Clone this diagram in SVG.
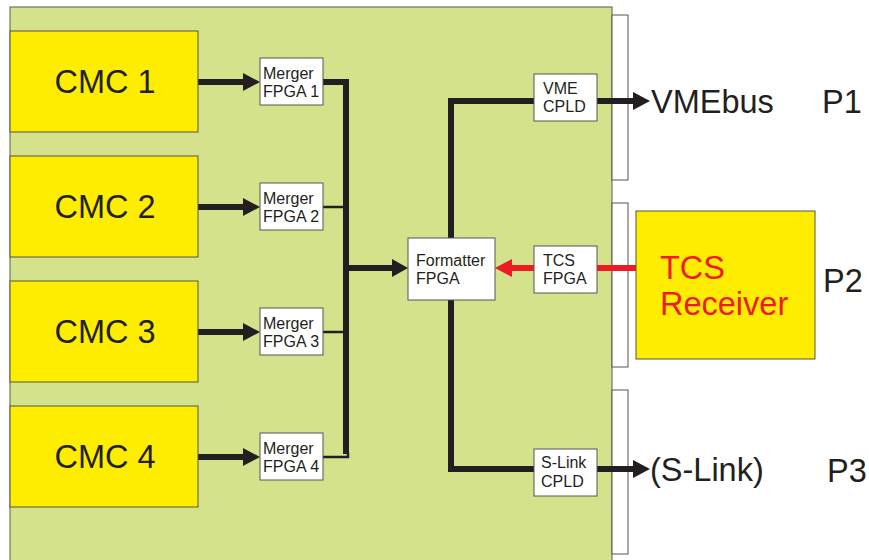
<svg xmlns="http://www.w3.org/2000/svg" width="869" height="560" viewBox="0 0 869 560">
<defs>
<style>
.board{fill:#d4e28b;stroke:#5a5a4a;stroke-width:1}
.strip{fill:#ffffff;stroke:#555555;stroke-width:1}
.cmc{fill:#ffed00;stroke:#555544;stroke-width:1}
.chip{fill:#ffffff;stroke:#555555;stroke-width:1}
.big{font-family:"Liberation Sans",Arial,sans-serif;font-size:32.5px;fill:#231f20}
.small{font-family:"Liberation Sans",Arial,sans-serif;font-size:16px;fill:#231f20}
.red{fill:#ed1c24}
.bus{stroke:#231f20;stroke-width:6;fill:none}
.thin{stroke:#231f20;stroke-width:2.5;fill:none}
.rbus{stroke:#ed1c24;stroke-width:6;fill:none}
</style>
</defs>
<rect class="board" x="10" y="7" width="602" height="560"/>
<rect class="strip" x="612" y="15" width="16" height="165"/>
<rect class="strip" x="612" y="203" width="16" height="164"/>
<rect class="strip" x="612" y="390" width="16" height="164"/>

<g id="connectors">
<line class="bus" x1="198" y1="82" x2="246" y2="82"/>
<polygon points="243,73 260,82 243,91" fill="#231f20"/>
<line class="bus" x1="198" y1="207" x2="246" y2="207"/>
<polygon points="243,198 260,207 243,216" fill="#231f20"/>
<line class="bus" x1="198" y1="332" x2="246" y2="332"/>
<polygon points="243,323 260,332 243,341" fill="#231f20"/>
<line class="bus" x1="198" y1="457" x2="246" y2="457"/>
<polygon points="243,448 260,457 243,466" fill="#231f20"/>
<polyline class="bus" points="323,82 346,82 346,454"/>
<line class="thin" x1="323" y1="207" x2="346" y2="207"/>
<line class="thin" x1="323" y1="332" x2="346" y2="332"/>
<polyline class="thin" points="323,457 348,457 348,452"/>
<line class="bus" x1="346" y1="268" x2="395" y2="268"/>
<polygon points="392,259 408,268 392,277" fill="#231f20"/>
<polyline class="bus" points="534,101 451,101 451,469 534,469"/>
<line class="bus" x1="597" y1="101" x2="636" y2="101"/>
<polygon points="633,92 650,101 633,110" fill="#231f20"/>
<line class="bus" x1="597" y1="469" x2="636" y2="469"/>
<polygon points="633,460 650,469 633,478" fill="#231f20"/>
<line class="rbus" x1="636" y1="268" x2="597" y2="268"/>
<line class="rbus" x1="534" y1="268" x2="509" y2="268"/>
<polygon points="512,259 495,268 512,277" fill="#ed1c24"/>
</g>

<g id="cmc1"><rect class="cmc" x="10" y="31" width="188" height="101"/><text class="big" x="105" y="93" text-anchor="middle">CMC 1</text></g>
<g id="cmc2"><rect class="cmc" x="10" y="156" width="188" height="101"/><text class="big" x="105" y="218" text-anchor="middle">CMC 2</text></g>
<g id="cmc3"><rect class="cmc" x="10" y="281" width="188" height="101"/><text class="big" x="105" y="343" text-anchor="middle">CMC 3</text></g>
<g id="cmc4"><rect class="cmc" x="10" y="406" width="188" height="101"/><text class="big" x="105" y="468" text-anchor="middle">CMC 4</text></g>

<g id="merger1"><rect class="chip" x="260" y="58" width="63" height="47"/><text class="small" x="263" y="79">Merger</text><text class="small" x="263" y="97">FPGA 1</text></g>
<g id="merger2"><rect class="chip" x="260" y="183" width="63" height="47"/><text class="small" x="263" y="204">Merger</text><text class="small" x="263" y="222">FPGA 2</text></g>
<g id="merger3"><rect class="chip" x="260" y="308" width="63" height="47"/><text class="small" x="263" y="329">Merger</text><text class="small" x="263" y="347">FPGA 3</text></g>
<g id="merger4"><rect class="chip" x="260" y="433" width="63" height="47"/><text class="small" x="263" y="454">Merger</text><text class="small" x="263" y="472">FPGA 4</text></g>

<g id="formatter"><rect class="chip" x="408" y="238" width="87" height="62"/><text class="small" x="416" y="266">Formatter</text><text class="small" x="416" y="284">FPGA</text></g>
<g id="vmecpld"><rect class="chip" x="534" y="74" width="63" height="47"/><text class="small" x="543" y="94">VME</text><text class="small" x="543" y="112">CPLD</text></g>
<g id="tcsfpga"><rect class="chip" x="534" y="246" width="63" height="47"/><text class="small" x="543" y="266">TCS</text><text class="small" x="543" y="284">FPGA</text></g>
<g id="slinkcpld"><rect class="chip" x="534" y="449" width="63" height="47"/><text class="small" x="541" y="468">S-Link</text><text class="small" x="541" y="487">CPLD</text></g>

<g id="tcsreceiver"><rect class="cmc" x="636" y="211" width="179" height="148"/><text class="big red" x="660" y="279">TCS</text><text class="big red" x="660" y="315">Receiver</text></g>

<g id="vmebus"><text class="big" x="651" y="113">VMEbus</text></g>
<g id="slink"><text class="big" x="650" y="481">(S-Link)</text></g>
<g id="p1"><text class="big" x="822" y="113">P1</text></g>
<g id="p2"><text class="big" x="823" y="292">P2</text></g>
<g id="p3"><text class="big" x="827" y="482">P3</text></g>
</svg>
